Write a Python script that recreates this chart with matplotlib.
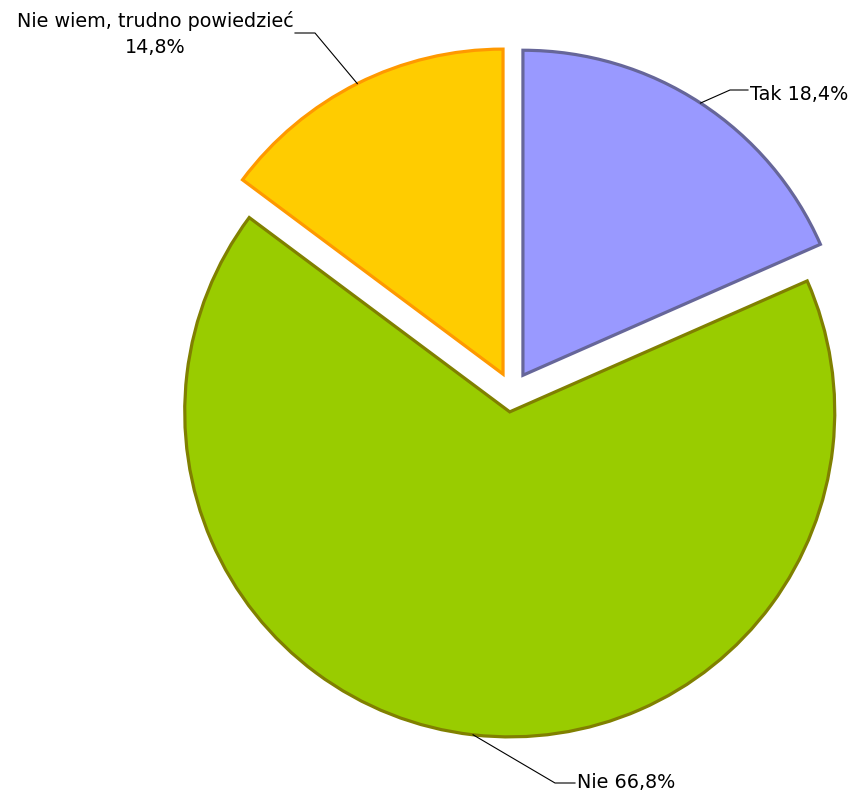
import numpy as np
import matplotlib.pyplot as plt

# data
labels = ['Tak', 'Nie', 'Nie wiem, trudno powiedzieć']
values = [18.4, 66.8, 14.8]
label_text = ['Tak 18,4%', 'Nie 66,8%', 'Nie wiem, trudno powiedzieć\n14,8%']

fills = ['#9999FF', '#99CC00', '#FFCC00']
edges = ['#666699', '#808000', '#FF9900']

W, H = 858, 796
fig = plt.figure(figsize=(W / 100, H / 100), dpi=100)
ax = fig.add_axes([0, 0, 1, 1])

center = (512, H - 392)
radius = 325
expl = 20

wedges, _ = ax.pie(values, startangle=90, counterclock=False, radius=radius,
                   center=center, explode=[expl] * 3, colors=fills,
                   wedgeprops=dict(linewidth=2.3), frame=True)
for w, ec in zip(wedges, edges):
    w.set_edgecolor(ec)
    w.set_joinstyle('miter')
ax.set_xlim(0, W)
ax.set_ylim(0, H)
ax.set_aspect('equal')
ax.axis('off')

# leader lines: knee point, end point, text anchor (image pixel coords)
knees = [(730, 90), (555, 783), (315, 33)]
ends = [(748, 90), (575, 783), (295, 33)]
text_pos = [(750, 95, 'left'), (577, 783, 'left'), (155, 34, 'center')]

for w, knee, end, (tx, ty, ha), txt in zip(wedges, knees, ends, text_pos, label_text):
    ang = np.deg2rad((w.theta1 + w.theta2) / 2)
    cx, cy = w.center
    ax0 = cx + radius * np.cos(ang)
    ay0 = cy + radius * np.sin(ang)
    xs = [ax0, knee[0], end[0]]
    ys = [ay0, H - knee[1], H - end[1]]
    ax.plot(xs, ys, color='black', lw=0.8, zorder=3)
    ax.text(tx, H - ty, txt, ha=ha, va='center', fontsize=13.8,
            family='DejaVu Sans', color='black', linespacing=1.45)

fig.savefig('out.png', dpi=100, facecolor='white')
